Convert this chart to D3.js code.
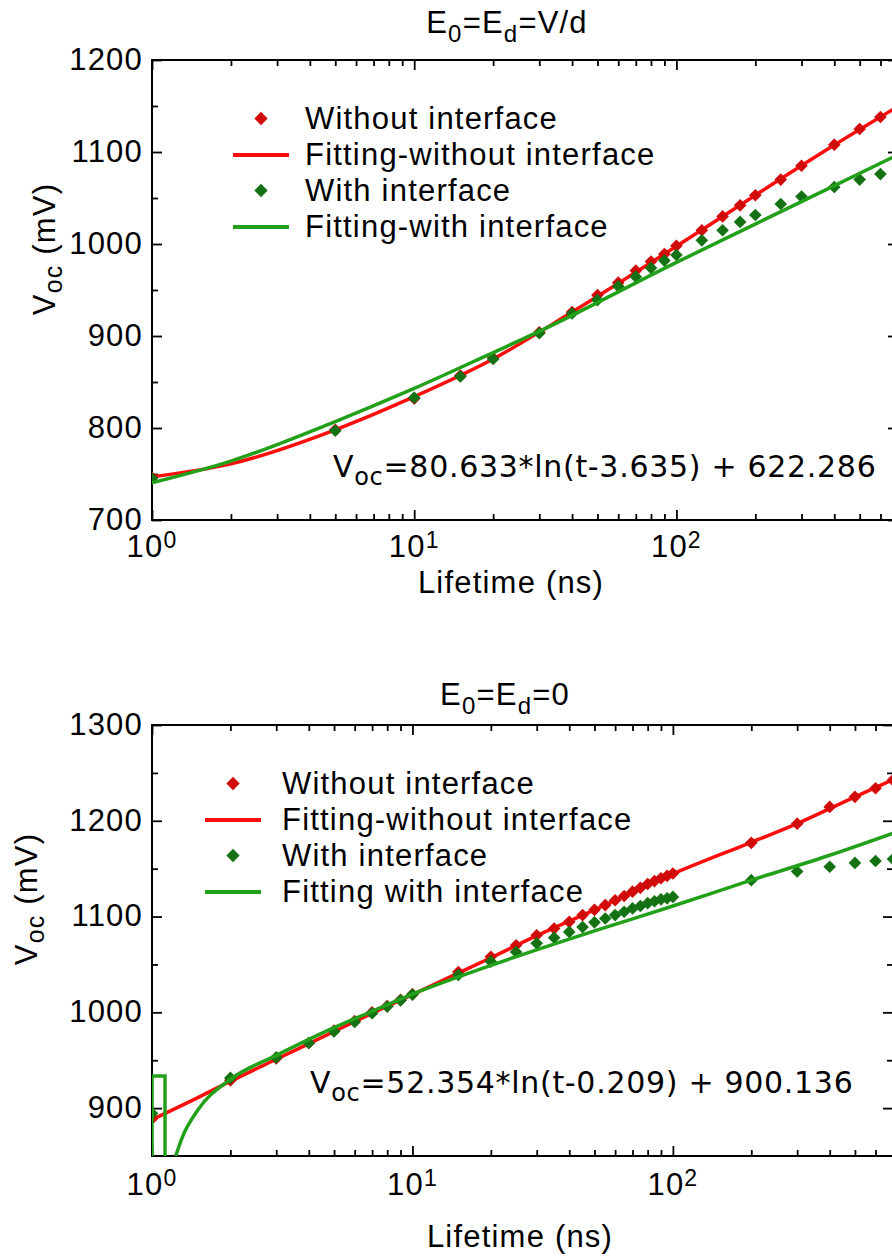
<!DOCTYPE html>
<html>
<head>
<meta charset="utf-8">
<script src="https://cdn.jsdelivr.net/npm/d3@7"></script>
<style>
  body { margin: 0; background: #fff; }
  text { font-family: "Liberation Sans", Arial, sans-serif; fill: #000; }
</style>
</head>
<body>
<div id="chart"></div>
<script>
// Voc vs lifetime, two panels

// ---- top panel : E0 = Ed = V/d ----
var lifetimeTop = [1, 5, 10, 15, 20, 30, 40, 50, 60, 70, 80, 90, 100, 125, 150, 175, 200, 250, 300, 400, 500, 600];
var vocWithoutTop = [746, 798, 832, 857, 876, 904, 926, 944.5, 958, 971, 981, 989, 998, 1015, 1030, 1042, 1053, 1070, 1085, 1108, 1125, 1138];
var vocWithTop = [745, 797, 833, 856, 875, 903, 924.5, 939, 954, 964.5, 974, 982, 988, 1004, 1015, 1024, 1031.5, 1043.5, 1051.5, 1062, 1070, 1076];

var fitTimeWithoutTop = [1, 2, 5, 10, 20, 40, 100, 200, 400, 700];
var fitWithoutTop = [747, 761, 798, 834, 875, 926, 997.5, 1053, 1107.5, 1149.5];
var fitTimeWithTop = [1, 2, 5, 10, 20, 30, 100, 300, 700];
var fitWithTop = [740.5, 764, 807, 843, 882, 905, 980, 1046, 1097];

// ---- bottom panel : E0 = Ed = 0 ----
var lifetimeBottom = [1, 2, 3, 4, 5, 6, 7, 8, 9, 10, 15, 20, 25, 30, 35, 40, 45, 50, 55, 60, 65, 70, 75, 80, 85, 90, 95, 100, 200, 300, 400, 500, 600, 700];
var vocWithoutBottom = [889, 929, 952, 968, 981, 991, 1000, 1006.5, 1013, 1019, 1042, 1058, 1070, 1080.5, 1087.5, 1094.5, 1101.5, 1107, 1112, 1117, 1121.5, 1126, 1130, 1134, 1137, 1140, 1142.5, 1145, 1177, 1197, 1214.5, 1225, 1234, 1242.5];
var vocWithBottom = [894.5, 931.5, 953, 968, 980, 990, 999, 1006, 1012.5, 1018.5, 1039, 1053, 1063, 1072, 1078, 1084, 1089, 1094, 1098, 1101.5, 1105, 1108.5, 1111, 1114, 1116, 1118, 1119, 1120.5, 1138, 1147, 1152, 1156, 1158, 1160];

var fitTimeWithoutBottom = [1, 1.5, 2, 3, 5, 7, 10, 15, 20, 30, 50, 70, 100, 200, 300, 500, 700];
var fitWithoutBottom = [888, 911, 928, 951, 980, 999, 1018.5, 1041, 1057, 1080, 1107, 1125.5, 1144.5, 1177.5, 1197, 1225, 1243];

var fitTimeWithBottom = [1.233, 1.3, 1.5, 2, 3, 5, 7, 10, 20, 50, 100, 200, 400, 700];
var fitWithBottom = [850, 868, 898, 930, 955, 984, 1001, 1019, 1049, 1085, 1111, 1138, 1164, 1187];
// the little box the fitting program drew near t = 1
var stepTimeBottom = [1, 1, 1.122, 1.122];
var stepVocBottom = [850, 933.4, 933.4, 850];

// ---- ticks / labels ----
var xMajorTicks = [1, 10, 100];
var xTickExponents = ["0", "1", "2"];
var xMinorTicks = [2, 3, 4, 5, 6, 7, 8, 9, 20, 30, 40, 50, 60, 70, 80, 90, 200, 300, 400, 500, 600];
var yMajorTop = [700, 800, 900, 1000, 1100, 1200];
var yMinorTop = [750, 850, 950, 1050, 1150];
var yMajorBottom = [900, 1000, 1100, 1200, 1300];
var yMinorBottom = [950, 1050, 1150, 1250];
var legendTop = ["Without interface", "Fitting-without interface", "With interface", "Fitting-with interface"];
var legendBottom = ["Without interface", "Fitting-without interface", "With interface", "Fitting with interface"];

var redLine = "#ff0d0d", redMark = "#d10a0a", greenLine = "#23a01a", greenMark = "#147214";

var width = 892, height = 1257;
var svg = d3.select("#chart").append("svg")
    .attr("width", width)
    .attr("height", height);

function zip(a, b) { return a.map(function (v, i) { return [v, b[i]]; }); }

function drawPanel(p, id) {
    var x = d3.scaleLog().domain([1, 700]).range([p.left, p.right]);
    var y = d3.scaleLinear().domain(p.yDomain).range([p.bottom, p.top]);
    var g = svg.append("g");

    g.append("clipPath").attr("id", "clip" + id)
        .append("rect")
        .attr("x", p.left).attr("y", p.top)
        .attr("width", p.right - p.left).attr("height", p.bottom - p.top);

    // tick marks, all pointing inward
    function ticks(axis, values, size, tx, ty) {
        var a = g.append("g")
            .attr("transform", "translate(" + tx + "," + ty + ")")
            .call(axis.tickValues(values).tickSize(-size).tickSizeOuter(0).tickFormat(""));
        a.select(".domain").remove();
        a.selectAll("line").attr("stroke", "#000").attr("stroke-width", 1.8);
        return a;
    }
    ticks(d3.axisBottom(x), xMajorTicks, 10, 0, p.bottom);
    ticks(d3.axisBottom(x), xMinorTicks, 6, 0, p.bottom);
    ticks(d3.axisTop(x), xMajorTicks, 10, 0, p.top);
    ticks(d3.axisTop(x), xMinorTicks, 6, 0, p.top);
    ticks(d3.axisRight(y), p.yMajor, 10, p.right, 0);
    ticks(d3.axisRight(y), p.yMinor, 6, p.right, 0);
    ticks(d3.axisLeft(y), p.yMinor, 6, p.left, 0);

    // left axis with labels
    var ya = g.append("g")
        .attr("transform", "translate(" + p.left + ",0)")
        .call(d3.axisLeft(y).tickValues(p.yMajor).tickFormat(d3.format("d"))
            .tickSize(-10).tickSizeOuter(0).tickPadding(9));
    ya.select(".domain").remove();
    ya.selectAll("line").attr("stroke", "#000").attr("stroke-width", 1.8);
    ya.attr("font-family", null).attr("font-size", null);
    ya.selectAll("text")
        .style("font-size", "31px")
        .style("letter-spacing", "1.2px")
        .attr("dy", "0.3em");

    // x labels 10^n
    xMajorTicks.forEach(function (v, i) {
        var t = g.append("text")
            .attr("x", x(v))
            .attr("y", p.bottom + p.xLabelDy)
            .attr("text-anchor", "middle")
            .style("font-size", "31px")
            .style("letter-spacing", "1.2px");
        t.append("tspan").text("10");
        t.append("tspan").attr("dy", -9).style("font-size", "23px").text(xTickExponents[i]);
    });

    // frame
    g.append("rect")
        .attr("x", p.left).attr("y", p.top)
        .attr("width", p.right - p.left).attr("height", p.bottom - p.top)
        .attr("fill", "none").attr("stroke", "#000").attr("stroke-width", 2);

    // titles
    var tt = g.append("text")
        .attr("x", p.titleX).attr("y", p.titleY)
        .attr("text-anchor", "middle")
        .style("font-size", "31px").style("letter-spacing", "1.2px");
    tt.append("tspan").text("E");
    tt.append("tspan").attr("dy", 9).style("font-size", "24px").text("0");
    tt.append("tspan").attr("dy", -9).text("=E");
    tt.append("tspan").attr("dy", 9).style("font-size", "24px").text("d");
    tt.append("tspan").attr("dy", -9).text(p.titleEnd);

    g.append("text")
        .attr("x", p.xTitleX).attr("y", p.xTitleY)
        .attr("text-anchor", "middle")
        .style("font-size", "31px").style("letter-spacing", "1.2px")
        .text("Lifetime (ns)");

    var yt = g.append("text")
        .attr("transform", "translate(" + p.yTitleX + "," + p.yTitleY + ") rotate(-90)")
        .attr("text-anchor", "middle")
        .style("font-size", "31px").style("letter-spacing", "1.2px");
    yt.append("tspan").text("V");
    yt.append("tspan").attr("dy", 7).style("font-size", "25px").text("oc");
    yt.append("tspan").attr("dy", -7).text(" (mV)");

    // equation
    var eq = g.append("text")
        .attr("x", p.eqX).attr("y", p.eqY)
        .style("font-family", "'DejaVu Sans', sans-serif")
        .style("font-size", "30px").style("letter-spacing", "0.7px");
    eq.append("tspan").text("V");
    eq.append("tspan").attr("dy", 8).style("font-size", "24px").text("oc");
    eq.append("tspan").attr("dy", -8).text(p.equation);

    // curves and points
    var line = d3.line()
        .x(function (d) { return x(d[0]); })
        .y(function (d) { return y(d[1]); });
    var smooth = d3.line()
        .x(function (d) { return x(d[0]); })
        .y(function (d) { return y(d[1]); })
        .curve(d3.curveMonotoneX);
    var plot = g.append("g").attr("clip-path", "url(#clip" + id + ")");
    var diamond = d3.symbol().type(d3.symbolSquare).size(80);

    function points(data, color) {
        plot.append("g").selectAll("path")
            .data(data)
            .enter().append("path")
            .attr("d", diamond)
            .attr("fill", color)
            .attr("transform", function (d) { return "translate(" + x(d[0]) + "," + y(d[1]) + ") rotate(45)"; });
    }

    plot.append("path").attr("d", smooth(p.fitRed))
        .attr("fill", "none").attr("stroke", redLine).attr("stroke-width", 3.5);
    points(p.red, redMark);
    points(p.green, greenMark);
    if (p.step) {
        plot.append("path").attr("d", line(p.step))
            .attr("fill", "none").attr("stroke", greenLine).attr("stroke-width", 3.5);
    }
    plot.append("path").attr("d", smooth(p.fitGreen))
        .attr("fill", "none").attr("stroke", greenLine).attr("stroke-width", 3.5);

    // legend
    var lg = g.append("g");
    p.legend.forEach(function (name, i) {
        var by = p.legendY + i * p.legendGap;
        var color = i < 2 ? [redMark, redLine][i] : [greenMark, greenLine][i - 2];
        if (i % 2 === 0) {
            lg.append("path")
                .attr("d", d3.symbol().type(d3.symbolSquare).size(88))
                .attr("fill", color)
                .attr("transform", "translate(" + p.legendSymX + "," + (by - 10) + ") rotate(45)");
        } else {
            lg.append("line")
                .attr("x1", p.legendSymX - 28).attr("x2", p.legendSymX + 28)
                .attr("y1", by - 9.5).attr("y2", by - 9.5)
                .attr("stroke", color).attr("stroke-width", 4);
        }
        lg.append("text")
            .attr("x", p.legendTextX).attr("y", by)
            .style("font-size", "31px").style("letter-spacing", "1.2px")
            .text(name);
    });
}

drawPanel({
    left: 152, right: 898, top: 60, bottom: 520,
    yDomain: [700, 1200], yMajor: yMajorTop, yMinor: yMinorTop,
    xLabelDy: 37,
    titleX: 507, titleY: 33, titleEnd: "=V/d",
    xTitleX: 511, xTitleY: 593,
    yTitleX: 55, yTitleY: 249,
    eqX: 333, eqY: 477, equation: "=80.633*ln(t-3.635) + 622.286",
    red: zip(lifetimeTop, vocWithoutTop), green: zip(lifetimeTop, vocWithTop),
    fitRed: zip(fitTimeWithoutTop, fitWithoutTop), fitGreen: zip(fitTimeWithTop, fitWithTop),
    legend: legendTop, legendY: 128.5, legendGap: 36, legendSymX: 261, legendTextX: 305
}, "Top");

drawPanel({
    left: 152, right: 893, top: 725, bottom: 1156,
    yDomain: [850, 1300], yMajor: yMajorBottom, yMinor: yMinorBottom,
    xLabelDy: 39,
    titleX: 505, titleY: 705, titleEnd: "=0",
    xTitleX: 520, xTitleY: 1247,
    yTitleX: 37, yTitleY: 899,
    eqX: 310, eqY: 1093, equation: "=52.354*ln(t-0.209) + 900.136",
    red: zip(lifetimeBottom, vocWithoutBottom), green: zip(lifetimeBottom, vocWithBottom),
    fitRed: zip(fitTimeWithoutBottom, fitWithoutBottom), fitGreen: zip(fitTimeWithBottom, fitWithBottom),
    step: zip(stepTimeBottom, stepVocBottom),
    legend: legendBottom, legendY: 793.5, legendGap: 36, legendSymX: 233, legendTextX: 282
}, "Bottom");
</script>
</body>
</html>
